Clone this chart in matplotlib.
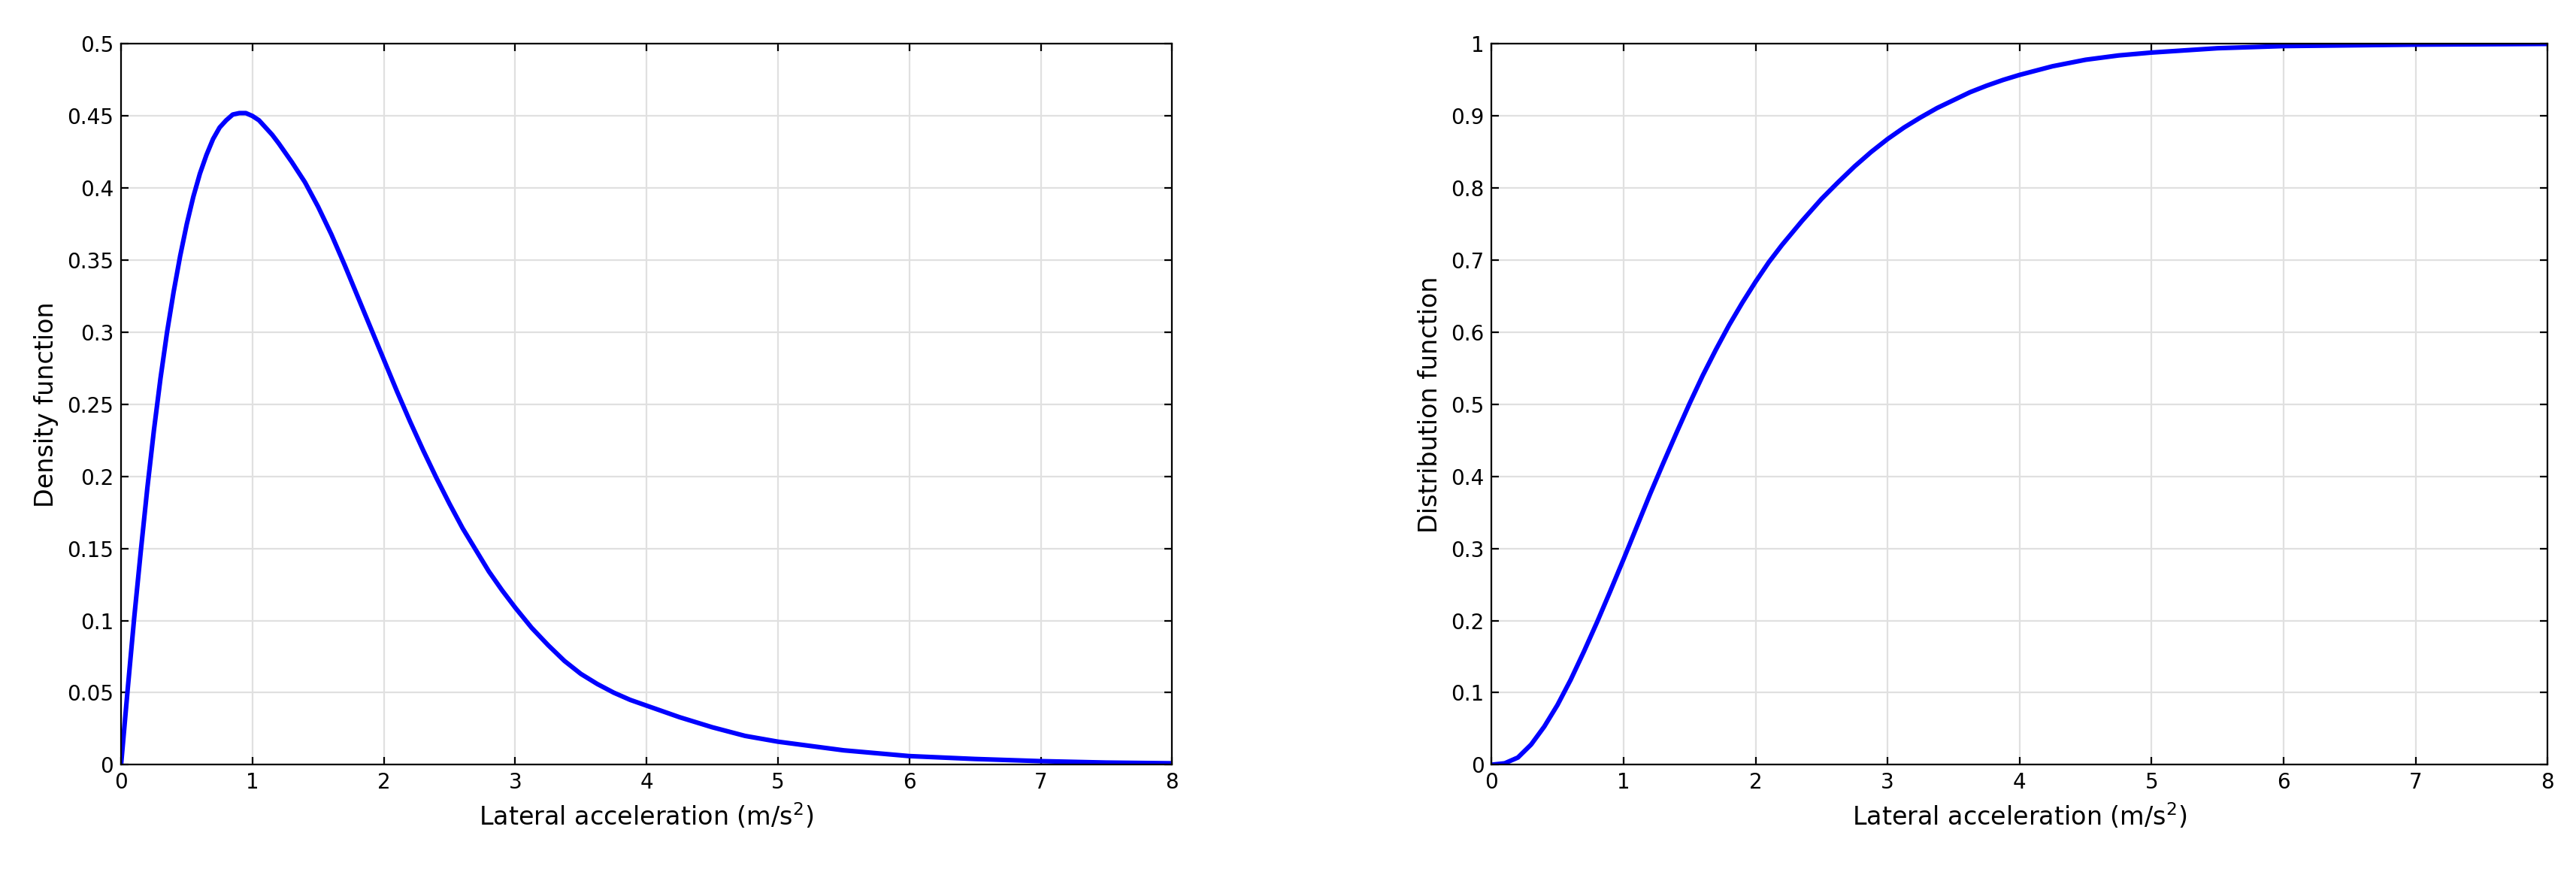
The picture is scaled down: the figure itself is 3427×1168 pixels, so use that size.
import matplotlib
matplotlib.use("Agg")
import matplotlib.pyplot as plt

pdf_x = [0, 0.05, 0.1, 0.15, 0.2, 0.25, 0.3, 0.35, 0.4, 0.45, 0.5, 0.55, 0.6, 0.65, 0.7, 0.75, 0.8, 0.85, 0.9,
         0.95, 1.0, 1.05, 1.1, 1.15, 1.2, 1.3, 1.4, 1.5, 1.6, 1.7, 1.8, 1.9, 2.0, 2.1, 2.2, 2.3, 2.4, 2.5,
         2.6, 2.7, 2.8, 2.9, 3.0, 3.125, 3.25, 3.375, 3.5, 3.625, 3.75, 3.875, 4.0, 4.25, 4.5, 4.75, 5.0,
         5.25, 5.5, 5.75, 6.0, 6.5, 7.0, 7.5, 8.0]
pdf_y = [0, 0.052, 0.102, 0.148, 0.192, 0.232, 0.268, 0.300, 0.328, 0.353, 0.375, 0.394, 0.410, 0.423,
         0.434, 0.442, 0.447, 0.451, 0.452, 0.452, 0.450, 0.447, 0.442, 0.437, 0.431, 0.418, 0.404, 0.387,
         0.368, 0.347, 0.325, 0.303, 0.281, 0.259, 0.238, 0.218, 0.199, 0.181, 0.164, 0.149, 0.134, 0.121,
         0.109, 0.095, 0.083, 0.072, 0.063, 0.056, 0.050, 0.045, 0.041, 0.033, 0.026, 0.020, 0.016, 0.013,
         0.010, 0.008, 0.006, 0.004, 0.0025, 0.0015, 0.001]
cdf_x = [0, 0.1, 0.2, 0.3, 0.4, 0.5, 0.6, 0.7, 0.8, 0.9, 1.0, 1.1, 1.2, 1.3, 1.4, 1.5, 1.6, 1.7, 1.8, 1.9,
         2.0, 2.1, 2.2, 2.35, 2.5, 2.625, 2.75, 2.875, 3.0, 3.125, 3.25, 3.375, 3.5, 3.625, 3.75, 3.875, 4.0,
         4.25, 4.5, 4.75, 5.0, 5.25, 5.5, 6.0, 6.5, 7.0, 8.0]
cdf_y = [0, 0.002, 0.01, 0.028, 0.053, 0.083, 0.118, 0.157, 0.198, 0.241, 0.285, 0.330, 0.375, 0.418,
         0.460, 0.501, 0.540, 0.576, 0.610, 0.641, 0.670, 0.697, 0.721, 0.754, 0.785, 0.808, 0.830, 0.850,
         0.868, 0.884, 0.898, 0.911, 0.922, 0.933, 0.942, 0.950, 0.957, 0.969, 0.978, 0.984, 0.988, 0.991,
         0.994, 0.997, 0.998, 0.999, 1.0]

fig = plt.figure(figsize=(17.135, 5.84), dpi=200)
ax1 = fig.add_axes([0.047, 0.129, 0.408, 0.821])
ax2 = fig.add_axes([0.579, 0.129, 0.410, 0.821])

for ax, x, y, yl, ylim, yt in [
        (ax1, pdf_x, pdf_y, "Density function", 0.5, [i * 0.05 for i in range(11)]),
        (ax2, cdf_x, cdf_y, "Distribution function", 1.0, [i * 0.1 for i in range(11)])]:
    ax.plot(x, y, color="#0000ff", lw=2.2, solid_joinstyle="round")
    ax.set_xlim(0, 8)
    ax.set_ylim(0, ylim)
    ax.set_xticks(range(9))
    ax.set_yticks(yt)
    ax.set_yticklabels([("%g" % round(v, 2)) for v in yt])
    ax.grid(True, color="#e0e0e0", lw=0.8)
    ax.tick_params(direction="in", top=True, right=True, labelsize=10)
    ax.set_xlabel("Lateral acceleration (m/s$^2$)", fontsize=12)
    ax.set_ylabel(yl, fontsize=12)
    for s in ax.spines.values():
        s.set_linewidth(0.8)

fig.savefig("out.png", dpi=200)
